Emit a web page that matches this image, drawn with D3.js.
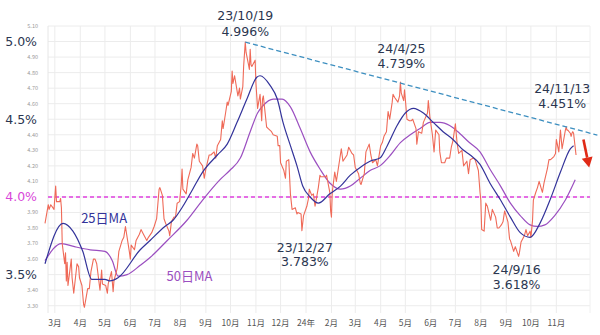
<!DOCTYPE html>
<html><head><meta charset="utf-8">
<script src="https://cdn.jsdelivr.net/npm/d3@7"></script>
<style>
html,body{margin:0;padding:0;background:#fff;}
svg{display:block;font-family:"Noto Sans CJK JP","Noto Sans",sans-serif;}
</style></head>
<body><svg id="c" width="600" height="335"></svg>
<script>
// ---- data (US 10Y yield, daily) ----
const dailyData = [
["2023-02-17",3.83],["2023-02-21",3.95],["2023-02-22",3.92],["2023-02-24",3.95],["2023-02-28",3.92],
["2023-03-01",4.00],["2023-03-02",4.07],["2023-03-03",3.97],["2023-03-07",3.97],["2023-03-08",3.99],
["2023-03-09",3.93],["2023-03-10",3.70],["2023-03-13",3.57],["2023-03-14",3.64],["2023-03-15",3.46],
["2023-03-16",3.58],["2023-03-17",3.43],["2023-03-21",3.60],["2023-03-22",3.48],["2023-03-24",3.38],
["2023-03-28",3.57],["2023-03-30",3.55],["2023-03-31",3.48],["2023-04-03",3.43],["2023-04-05",3.31],
["2023-04-06",3.29],["2023-04-10",3.41],["2023-04-12",3.41],["2023-04-14",3.52],["2023-04-17",3.60],
["2023-04-19",3.60],["2023-04-21",3.57],["2023-04-25",3.40],["2023-04-27",3.53],["2023-04-28",3.44],
["2023-05-02",3.43],["2023-05-04",3.38],["2023-05-05",3.44],["2023-05-09",3.52],["2023-05-11",3.39],
["2023-05-12",3.46],["2023-05-16",3.54],["2023-05-18",3.65],["2023-05-22",3.72],["2023-05-24",3.74],
["2023-05-26",3.81],["2023-05-31",3.64],["2023-06-01",3.60],["2023-06-02",3.69],["2023-06-06",3.66],
["2023-06-08",3.72],["2023-06-12",3.76],["2023-06-14",3.79],["2023-06-16",3.77],["2023-06-21",3.72],
["2023-06-23",3.74],["2023-06-27",3.77],["2023-06-30",3.81],["2023-07-03",3.86],["2023-07-06",4.05],
["2023-07-07",4.06],["2023-07-10",4.01],["2023-07-12",3.86],["2023-07-14",3.83],["2023-07-18",3.78],
["2023-07-19",3.75],["2023-07-21",3.84],["2023-07-24",3.87],["2023-07-26",3.87],["2023-07-28",3.96],
["2023-07-31",3.97],["2023-08-02",4.08],["2023-08-03",4.18],["2023-08-04",4.05],["2023-08-08",4.02],
["2023-08-10",4.11],["2023-08-14",4.19],["2023-08-16",4.28],["2023-08-18",4.25],["2023-08-21",4.34],
["2023-08-22",4.33],["2023-08-24",4.23],["2023-08-28",4.20],["2023-08-30",4.12],["2023-09-01",4.18],
["2023-09-05",4.27],["2023-09-07",4.27],["2023-09-11",4.29],["2023-09-13",4.25],["2023-09-15",4.33],
["2023-09-19",4.37],["2023-09-21",4.49],["2023-09-22",4.44],["2023-09-25",4.54],["2023-09-27",4.61],
["2023-09-28",4.59],["2023-10-02",4.68],["2023-10-03",4.81],["2023-10-04",4.73],["2023-10-06",4.78],
["2023-10-10",4.65],["2023-10-12",4.70],["2023-10-13",4.63],["2023-10-16",4.71],["2023-10-17",4.84],
["2023-10-19",4.996],["2023-10-20",4.93],["2023-10-23",4.85],["2023-10-24",4.82],["2023-10-25",4.95],
["2023-10-26",4.85],["2023-10-27",4.84],["2023-10-31",4.88],["2023-11-01",4.73],["2023-11-03",4.57],
["2023-11-06",4.66],["2023-11-08",4.49],["2023-11-09",4.63],["2023-11-10",4.65],["2023-11-14",4.45],
["2023-11-16",4.44],["2023-11-20",4.42],["2023-11-22",4.40],["2023-11-27",4.39],["2023-11-28",4.33],
["2023-11-30",4.33],["2023-12-01",4.22],["2023-12-05",4.17],["2023-12-07",4.12],["2023-12-08",4.23],
["2023-12-11",4.24],["2023-12-13",4.02],["2023-12-15",3.92],["2023-12-19",3.93],["2023-12-21",3.89],
["2023-12-22",3.90],["2023-12-26",3.89],["2023-12-27",3.783],["2023-12-29",3.88],
["2024-01-02",3.94],["2024-01-04",3.99],["2024-01-05",4.05],["2024-01-08",4.01],["2024-01-10",4.02],
["2024-01-12",3.94],["2024-01-16",4.06],["2024-01-18",4.14],["2024-01-19",4.13],["2024-01-23",4.13],
["2024-01-25",4.13],["2024-01-26",4.14],["2024-01-30",4.03],["2024-01-31",3.91],["2024-02-01",3.87],
["2024-02-02",4.03],["2024-02-05",4.16],["2024-02-07",4.10],["2024-02-09",4.17],["2024-02-13",4.31],
["2024-02-15",4.23],["2024-02-20",4.27],["2024-02-22",4.32],["2024-02-26",4.28],["2024-02-28",4.27],
["2024-03-01",4.19],["2024-03-05",4.15],["2024-03-07",4.09],["2024-03-08",4.08],["2024-03-12",4.15],
["2024-03-14",4.29],["2024-03-18",4.34],["2024-03-20",4.27],["2024-03-22",4.22],["2024-03-26",4.24],
["2024-03-28",4.20],["2024-04-01",4.33],["2024-04-03",4.35],["2024-04-05",4.39],["2024-04-08",4.42],
["2024-04-10",4.55],["2024-04-12",4.50],["2024-04-15",4.61],["2024-04-16",4.66],["2024-04-18",4.64],
["2024-04-22",4.61],["2024-04-24",4.65],["2024-04-25",4.739],["2024-04-26",4.67],["2024-04-29",4.62],
["2024-04-30",4.69],["2024-05-01",4.63],["2024-05-03",4.50],["2024-05-06",4.49],["2024-05-08",4.49],
["2024-05-10",4.50],["2024-05-14",4.44],["2024-05-15",4.34],["2024-05-17",4.42],["2024-05-21",4.41],
["2024-05-23",4.48],["2024-05-28",4.54],["2024-05-29",4.62],["2024-05-31",4.51],["2024-06-03",4.40],
["2024-06-05",4.29],["2024-06-07",4.43],["2024-06-11",4.40],["2024-06-12",4.29],["2024-06-14",4.22],
["2024-06-18",4.22],["2024-06-20",4.25],["2024-06-24",4.25],["2024-06-26",4.32],["2024-06-28",4.36],
["2024-07-01",4.47],["2024-07-03",4.35],["2024-07-05",4.28],["2024-07-09",4.30],["2024-07-11",4.20],
["2024-07-15",4.23],["2024-07-17",4.15],["2024-07-19",4.24],["2024-07-23",4.25],["2024-07-25",4.24],
["2024-07-29",4.17],["2024-07-31",4.03],["2024-08-01",3.98],["2024-08-02",3.79],["2024-08-05",3.78],
["2024-08-07",3.96],["2024-08-09",3.94],["2024-08-13",3.85],["2024-08-15",3.92],["2024-08-19",3.87],
["2024-08-21",3.80],["2024-08-23",3.80],["2024-08-26",3.82],["2024-08-28",3.84],["2024-08-30",3.91],
["2024-09-03",3.84],["2024-09-05",3.73],["2024-09-06",3.72],["2024-09-10",3.65],["2024-09-12",3.68],
["2024-09-16",3.618],["2024-09-17",3.64],["2024-09-19",3.71],["2024-09-23",3.75],["2024-09-25",3.79],
["2024-09-27",3.75],["2024-09-30",3.78],["2024-10-01",3.74],["2024-10-03",3.85],["2024-10-04",3.98],
["2024-10-07",4.03],["2024-10-09",4.06],["2024-10-11",4.10],["2024-10-15",4.03],["2024-10-17",4.09],
["2024-10-21",4.18],["2024-10-23",4.24],["2024-10-25",4.24],["2024-10-29",4.26],["2024-10-31",4.28],
["2024-11-01",4.37],["2024-11-04",4.29],["2024-11-06",4.43],["2024-11-08",4.31],["2024-11-12",4.43],
["2024-11-13",4.451],["2024-11-14",4.43],["2024-11-15",4.43],["2024-11-18",4.41],["2024-11-19",4.39],
["2024-11-20",4.41],["2024-11-21",4.42],["2024-11-22",4.41],["2024-11-25",4.27]
];
const ma25Data = [
["2023-02-17",3.57],["2023-03-11",3.83],["2023-03-23",3.78],["2023-04-04",3.65],["2023-04-15",3.47],
["2023-05-01",3.47],["2023-05-07",3.46],["2023-05-17",3.48],["2023-06-13",3.66],["2023-06-25",3.72],
["2023-07-13",3.81],["2023-07-23",3.85],["2023-08-04",3.94],["2023-08-16",4.05],["2023-08-28",4.16],
["2023-09-15",4.27],["2023-09-27",4.34],["2023-10-09",4.48],["2023-10-21",4.63],["2023-11-02",4.77],
["2023-11-06",4.78],["2023-11-18",4.72],["2023-11-27",4.63],["2023-12-04",4.48],["2023-12-13",4.33],
["2023-12-21",4.20],["2023-12-28",4.07],["2024-01-06",4.00],["2024-01-16",3.96],["2024-01-30",4.02],
["2024-02-12",4.07],["2024-02-24",4.14],["2024-03-07",4.19],["2024-03-19",4.23],["2024-03-31",4.25],
["2024-04-09",4.33],["2024-04-21",4.46],["2024-05-01",4.54],["2024-05-11",4.57],["2024-05-23",4.54],
["2024-06-04",4.48],["2024-06-16",4.42],["2024-06-28",4.37],["2024-07-11",4.30],["2024-07-19",4.27],
["2024-07-31",4.21],["2024-08-12",4.09],["2024-08-25",3.98],["2024-09-06",3.87],["2024-09-18",3.77],
["2024-09-30",3.74],["2024-10-12",3.83],["2024-10-25",3.99],["2024-11-06",4.16],["2024-11-18",4.31],
["2024-11-22",4.33]
];
const ma50Data = [
["2023-02-17",3.59],["2023-03-09",3.70],["2023-03-25",3.68],["2023-04-13",3.66],["2023-05-01",3.65],
["2023-05-10",3.59],["2023-05-17",3.49],["2023-05-28",3.50],["2023-06-13",3.56],["2023-06-25",3.61],
["2023-07-16",3.72],["2023-08-09",3.85],["2023-08-28",3.98],["2023-09-18",4.11],["2023-09-30",4.17],
["2023-10-13",4.25],["2023-10-25",4.42],["2023-11-03",4.54],["2023-11-10",4.59],["2023-11-22",4.63],
["2023-12-03",4.63],["2023-12-13",4.58],["2023-12-25",4.44],["2024-01-06",4.29],["2024-01-18",4.18],
["2024-01-30",4.09],["2024-02-12",4.05],["2024-02-24",4.07],["2024-03-07",4.12],["2024-03-19",4.17],
["2024-03-31",4.20],["2024-04-13",4.27],["2024-04-25",4.35],["2024-05-07",4.40],["2024-05-19",4.44],
["2024-05-31",4.48],["2024-06-12",4.48],["2024-06-24",4.46],["2024-07-06",4.41],["2024-07-18",4.35],
["2024-07-31",4.29],["2024-08-12",4.18],["2024-08-25",4.07],["2024-09-06",3.96],["2024-09-18",3.88],
["2024-09-30",3.82],["2024-10-09",3.81],["2024-10-18",3.82],["2024-10-30",3.88],["2024-11-12",3.98],
["2024-11-24",4.11]
];
const trendPoints = [["2023-10-19",4.996],["2024-12-21",4.398]];
const arrowPoints = [["2024-12-04",4.37],["2024-12-11",4.19]];
const refLevel = 4.0;
const bigYLabels = [[5.0,"5.0%"],[4.5,"4.5%"],[4.0,"4.0%"],[3.5,"3.5%"]];
const smallYTicks = [5.1,4.9,4.8,4.7,4.6,4.4,4.3,4.2,4.1,3.9,3.8,3.7,3.6,3.4,3.3];
const gridYTicks = [5.1,5.0,4.9,4.8,4.7,4.6,4.5,4.4,4.3,4.2,4.1,4.0,3.9,3.8,3.7,3.6,3.5,3.4,3.3];
const annDates  = ["2023-10-19","2024-04-25","2024-11-13","2023-12-27","2024-09-16"];
const annValues = [4.996, 4.739, 4.451, 3.783, 3.618];
const annLabels = ["23/10/19","24/4/25","24/11/13","23/12/27","24/9/16"];
const annPcts   = ["4.996%","4.739%","4.451%","3.783%","3.618%"];
// label placement (pixel offsets from the point: [dx, dyLine1, dyLine2])
const annLayout = [[0,-22,-6],[1,-29,-14],[-4,-34,-19],[3,21,35],[-2,18,33]];
const seriesLabels = [
  {text:"25日MA", date:"2023-04-30", value:3.86, color:"#33339a"},
  {text:"50日MA", date:"2023-08-12", value:3.49, color:"#9b4fc0"}
];

// ---- chart ----
const parse = d3.utcParse("%Y-%m-%d");
const svg = d3.select("#c");
const frame = {left:48, right:590, top:26, bottom:313};
const x = d3.scaleUtc().domain([parse("2023-02-17"), parse("2024-12-12")]).range([45, 590]);
const y = d3.scaleLinear().domain([3.25, 5.10]).range([313.5, 26]);
const numFont = "'DejaVu Sans', Verdana, sans-serif";

// grid
const months = d3.utcMonth.range(parse("2023-03-01"), parse("2024-12-01"));
const g = svg.append("g");
g.selectAll("line.h").data(gridYTicks).join("line")
  .attr("x1", frame.left).attr("x2", frame.right)
  .attr("y1", d=>y(d)).attr("y2", d=>y(d))
  .attr("stroke", "#ececec").attr("stroke-width", 1);
g.selectAll("line.v").data(months).join("line")
  .attr("x1", d=>x(d)).attr("x2", d=>x(d))
  .attr("y1", frame.top).attr("y2", frame.bottom)
  .attr("stroke", "#ececec").attr("stroke-width", 1);
g.append("line").attr("x1",frame.left).attr("x2",frame.left).attr("y1",frame.top).attr("y2",frame.bottom).attr("stroke","#e6e6e6");
g.append("line").attr("x1",frame.right).attr("x2",frame.right).attr("y1",frame.top).attr("y2",frame.bottom).attr("stroke","#f0f0f0");

// y labels
svg.selectAll("text.sy").data(smallYTicks).join("text")
  .attr("x", 38).attr("y", d=>y(d)).attr("dy","0.35em")
  .attr("text-anchor","end").attr("font-size", 5.5).attr("fill","#9a9a9a")
  .text(d=>d.toFixed(2));
svg.selectAll("text.by").data(bigYLabels).join("text")
  .attr("x", 37).attr("y", d=>y(d[0])).attr("dy","0.36em")
  .attr("text-anchor","end").attr("font-size", 12.5).attr("font-family", numFont)
  .attr("fill", d=>d[0]===refLevel ? "#d946d9" : "#2b3650")
  .text(d=>d[1]);

// x labels
const mfmt = d => d.getUTCMonth()===0 ? String(d.getUTCFullYear()).slice(2)+"年" : (d.getUTCMonth()+1)+"月";
svg.selectAll("text.mx").data(months.filter(d=>d<=parse("2024-11-01"))).join("text")
  .attr("x", d=>x(d)).attr("y", 326).attr("text-anchor","middle")
  .attr("font-size", 8.5).attr("fill","#555").text(mfmt);

// reference line
svg.append("line").attr("x1",frame.left).attr("x2",frame.right)
  .attr("y1",y(refLevel)).attr("y2",y(refLevel))
  .attr("stroke","#e040e0").attr("stroke-width",1.4).attr("stroke-dasharray","4,3");

// lines
const line = d3.line().x(d=>x(parse(d[0]))).y(d=>y(d[1]));
const smooth = d3.line().x(d=>x(parse(d[0]))).y(d=>y(d[1])).curve(d3.curveMonotoneX);
svg.append("path").datum(ma50Data).attr("d", smooth)
  .attr("fill","none").attr("stroke","#9b4fc0").attr("stroke-width",1.2);
svg.append("path").datum(dailyData).attr("d", line)
  .attr("fill","none").attr("stroke","#ef6a58").attr("stroke-width",1.1).attr("stroke-linejoin","round");
svg.append("path").datum(ma25Data).attr("d", smooth)
  .attr("fill","none").attr("stroke","#33339a").attr("stroke-width",1.2);

// trend line
svg.append("path").datum(trendPoints).attr("d", line)
  .attr("fill","none").attr("stroke","#3d8fc0").attr("stroke-width",1.3).attr("stroke-dasharray","5,3");

// arrow
const a0 = arrowPoints[0], a1 = arrowPoints[1];
const ax0 = x(parse(a0[0])), ay0 = y(a0[1]), ax1 = x(parse(a1[0])), ay1 = y(a1[1]);
const ang = Math.atan2(ay1-ay0, ax1-ax0);
const hl = 10, hw = 5.5;
const bx = ax1 - hl*Math.cos(ang), by = ay1 - hl*Math.sin(ang);
svg.append("line").attr("x1",ax0).attr("y1",ay0).attr("x2",bx).attr("y2",by)
  .attr("stroke","#e02a16").attr("stroke-width",2.6);
svg.append("path")
  .attr("d", d3.line()([[ax1,ay1],[bx - hw*Math.sin(ang), by + hw*Math.cos(ang)],[bx + hw*Math.sin(ang), by - hw*Math.cos(ang)]]) + "Z")
  .attr("fill","#e02a16");

// annotations (two separate text lines each)
annDates.forEach((dt, i) => {
  const ax = x(parse(dt)) + annLayout[i][0], ay = y(annValues[i]);
  svg.append("text").attr("x",ax).attr("y",ay + annLayout[i][1]).attr("text-anchor","middle")
    .attr("font-size",12.5).attr("font-family",numFont).attr("fill","#2b3650").text(annLabels[i]);
  svg.append("text").attr("x",ax).attr("y",ay + annLayout[i][2]).attr("text-anchor","middle")
    .attr("font-size",12.5).attr("font-family",numFont).attr("fill","#2b3650").text(annPcts[i]);
});

// series labels
svg.selectAll("text.sl").data(seriesLabels).join("text")
  .attr("x", d=>x(parse(d.date))).attr("y", d=>y(d.value)).attr("dy","0.35em")
  .attr("text-anchor","middle").attr("font-size",13).attr("fill", d=>d.color).text(d=>d.text);
</script></body></html>
